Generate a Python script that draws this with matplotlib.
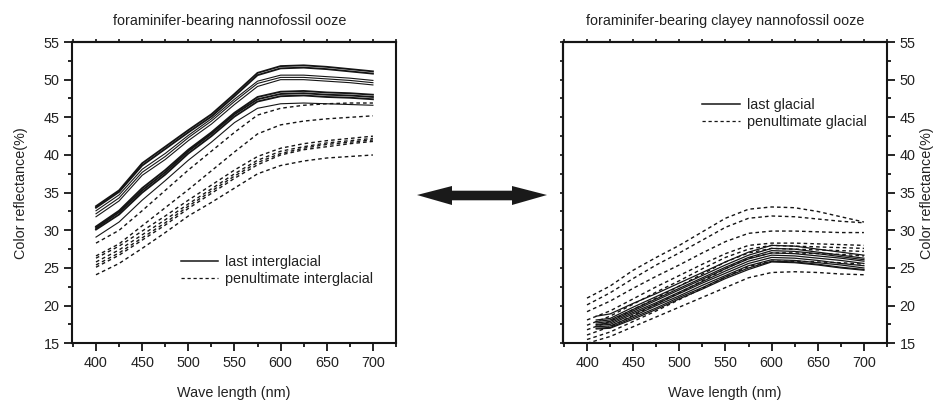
import matplotlib
matplotlib.use('Agg')
import matplotlib.pyplot as plt
from matplotlib.ticker import MultipleLocator
from matplotlib.patches import Polygon
from matplotlib.lines import Line2D
import matplotlib.transforms as mtransforms

plt.rcParams['font.family'] = ['Liberation Sans', 'DejaVu Sans']

# ---------------- data ----------------
wl = [400, 425, 450, 475, 500, 525, 550, 575, 600, 625, 650, 675, 700]
wl_r_solid = [410, 425, 450, 475, 500, 525, 550, 575, 600, 625, 650, 675, 700]

# left panel: last interglacial (solid)
left_solid = [
    [33.2, 35.3, 38.9, 41.1, 43.3, 45.4, 48.1, 50.9, 51.8, 51.9, 51.7, 51.4, 51.1],
    [33.0, 35.1, 38.6, 40.8, 43.0, 45.1, 47.8, 50.6, 51.5, 51.6, 51.4, 51.1, 50.8],
    [32.6, 34.7, 38.1, 40.2, 42.6, 44.8, 47.4, 49.8, 50.6, 50.6, 50.4, 50.2, 49.9],
    [32.2, 34.3, 37.7, 39.8, 42.3, 44.5, 47.1, 49.5, 50.3, 50.3, 50.1, 49.9, 49.6],
    [31.8, 33.9, 37.3, 39.4, 41.9, 44.1, 46.7, 49.1, 50.0, 50.0, 49.8, 49.6, 49.3],
    [30.5, 32.6, 35.6, 38.0, 40.7, 43.0, 45.6, 47.7, 48.4, 48.5, 48.3, 48.2, 48.0],
    [30.3, 32.4, 35.3, 37.7, 40.5, 42.8, 45.4, 47.4, 48.1, 48.2, 48.0, 47.9, 47.7],
    [30.1, 32.1, 35.0, 37.4, 40.2, 42.5, 45.1, 47.1, 47.8, 47.9, 47.7, 47.6, 47.4],
    [29.1, 31.1, 34.0, 36.6, 39.3, 41.7, 44.3, 46.2, 46.8, 46.9, 46.8, 46.7, 46.6],
]
left_solid_thick = [True, True, False, False, False, True, True, True, False]

# left panel: penultimate interglacial (dashed)
left_dashed = [
    [28.3, 30.0, 32.6, 35.3, 38.0, 40.5, 43.0, 45.3, 46.2, 46.6, 46.8, 46.9, 46.9],
    [26.6, 28.2, 30.6, 33.0, 35.4, 37.9, 40.4, 42.8, 44.0, 44.5, 44.8, 45.0, 45.2],
    [26.3, 27.9, 29.9, 31.9, 34.0, 36.0, 38.0, 39.8, 40.9, 41.5, 41.9, 42.2, 42.5],
    [25.8, 27.4, 29.4, 31.4, 33.5, 35.5, 37.5, 39.3, 40.5, 41.1, 41.6, 41.9, 42.2],
    [25.4, 27.0, 29.0, 31.0, 33.2, 35.2, 37.2, 39.0, 40.2, 40.9, 41.4, 41.7, 42.0],
    [25.1, 26.7, 28.7, 30.7, 32.9, 34.9, 36.9, 38.7, 40.0, 40.7, 41.1, 41.5, 41.8],
    [24.1, 25.6, 27.6, 29.7, 31.9, 33.7, 35.6, 37.5, 38.6, 39.2, 39.6, 39.8, 40.0],
]

# right panel: last glacial (solid)
right_solid = [
    [18.6, 18.9, 20.3, 21.6, 23.0, 24.4, 25.8, 27.1, 28.0, 27.9, 27.5, 27.1, 26.7],
    [18.1, 18.3, 19.8, 21.2, 22.6, 24.0, 25.4, 26.7, 27.6, 27.5, 27.1, 26.7, 26.3],
    [17.9, 18.1, 19.5, 20.9, 22.3, 23.7, 25.1, 26.4, 27.3, 27.2, 26.9, 26.5, 26.1],
    [17.7, 17.9, 19.3, 20.7, 22.1, 23.5, 24.9, 26.2, 27.0, 26.9, 26.6, 26.3, 25.9],
    [17.5, 17.7, 19.1, 20.4, 21.8, 23.2, 24.6, 25.9, 26.7, 26.6, 26.3, 26.0, 25.6],
    [17.4, 17.5, 18.9, 20.2, 21.6, 23.0, 24.3, 25.6, 26.4, 26.3, 26.0, 25.6, 25.3],
    [17.2, 17.3, 18.6, 20.0, 21.3, 22.7, 24.0, 25.3, 26.1, 26.0, 25.7, 25.4, 25.0],
    [17.0, 17.1, 18.4, 19.7, 21.1, 22.4, 23.8, 25.0, 25.9, 25.8, 25.5, 25.1, 24.8],
    [16.9, 17.0, 18.2, 19.5, 20.9, 22.2, 23.6, 24.8, 25.8, 25.7, 25.4, 25.0, 24.7],
]

# right panel: penultimate glacial (dashed)
right_dashed = [
    [21.0, 22.6, 24.7, 26.4, 28.0, 29.8, 31.6, 32.8, 33.1, 33.0, 32.5, 31.8, 31.1],
    [20.1, 21.7, 23.6, 25.4, 27.0, 28.7, 30.4, 31.6, 31.9, 31.8, 31.5, 31.2, 31.0],
    [19.2, 20.6, 22.3, 23.9, 25.4, 27.0, 28.5, 29.6, 29.9, 29.9, 29.8, 29.7, 29.7],
    [18.1, 19.3, 20.9, 22.5, 24.0, 25.5, 26.9, 28.0, 28.3, 28.3, 28.2, 28.1, 28.0],
    [17.4, 18.6, 20.2, 21.8, 23.3, 24.9, 26.4, 27.5, 28.0, 27.9, 27.8, 27.7, 27.6],
    [16.8, 17.9, 19.5, 21.0, 22.6, 24.2, 25.8, 27.0, 27.6, 27.5, 27.4, 27.3, 27.2],
    [16.1, 17.2, 18.7, 20.2, 21.7, 23.3, 24.9, 26.3, 27.0, 27.0, 26.9, 26.8, 26.6],
    [15.5, 16.5, 17.9, 19.3, 20.8, 22.3, 23.8, 25.2, 25.9, 25.9, 25.8, 25.7, 25.5],
    [15.0, 15.9, 17.2, 18.5, 19.8, 21.1, 22.4, 23.7, 24.4, 24.5, 24.4, 24.2, 24.1],
]

titles = ["foraminifer-bearing nannofossil ooze",
          "foraminifer-bearing clayey nannofossil ooze"]
legend_left = ["last interglacial", "penultimate interglacial"]
legend_right = ["last glacial", "penultimate glacial"]
xlabel = "Wave length (nm)"
ylabel = "Color reflectance(%)"

# ---------------- figure ----------------
W, H = 938, 407
fig = plt.figure(figsize=(W / 100, H / 100), dpi=100)
FS = 10.4
INK = '#151515'
TXT = '#222222'


def rect(l, t, r, b):
    return [l / W, 1 - b / H, (r - l) / W, (b - t) / H]


axL = fig.add_axes(rect(72, 42, 396, 343.3))
axR = fig.add_axes(rect(563, 42, 887, 343.3))

DASH = (2.6, 2.2)

for y, thick in zip(left_solid, left_solid_thick):
    axL.plot(wl, y, color=INK, lw=1.35 if thick else 0.8)
for y in left_dashed:
    axL.plot(wl, y, color=INK, lw=1.0, dashes=DASH)

for y in right_solid:
    axR.plot(wl_r_solid, y, color=INK, lw=0.9)
for y in right_dashed:
    axR.plot(wl, y, color=INK, lw=1.0, dashes=DASH)

for ax in (axL, axR):
    ax.set_xlim(374, 725)
    ax.set_ylim(15, 55)
    ax.xaxis.set_major_locator(MultipleLocator(50))
    ax.xaxis.set_minor_locator(MultipleLocator(25))
    ax.yaxis.set_major_locator(MultipleLocator(5))
    ax.yaxis.set_minor_locator(MultipleLocator(2.5))
    for s in ax.spines.values():
        s.set_linewidth(1.5)
        s.set_color(INK)
    ax.tick_params(which='major', direction='out', length=6, width=1.3,
                   labelsize=FS, color=INK, labelcolor=TXT)
    ax.tick_params(which='minor', direction='out', length=3.2, width=1.3, color=INK)
    ax.tick_params(axis='x', pad=3)
    ax.tick_params(axis='y', pad=3)
    ax.set_xlabel(xlabel, fontsize=FS, labelpad=12, color=TXT)
    top = ax.secondary_xaxis('top')
    top.xaxis.set_major_locator(MultipleLocator(25))
    top.tick_params(direction='out', length=2.5, width=1.2, labeltop=False, color=INK)
    top.spines['top'].set_linewidth(1.5)

axL.tick_params(axis='y', left=True, right=False, labelleft=True)
axL.set_ylabel(ylabel, fontsize=FS, labelpad=11, color=TXT)

axR.yaxis.tick_right()
axR.yaxis.set_label_position('right')
axR.tick_params(axis='y', which='both', right=True, left=False, labelright=True)
axR.set_ylabel(ylabel, fontsize=FS, labelpad=3, color=TXT)
lft = axR.secondary_yaxis('left')
lft.yaxis.set_major_locator(MultipleLocator(2.5))
lft.tick_params(direction='out', length=2.5, width=1.2, labelleft=False, color=INK)
lft.spines['left'].set_linewidth(1.5)

# titles
fig.text(230 / W, 1 - 25 / H, titles[0], ha='center', va='baseline', fontsize=FS, color=TXT)
fig.text(725 / W, 1 - 25 / H, titles[1], ha='center', va='baseline', fontsize=FS, color=TXT)

# legends
hs = [Line2D([], [], color=INK, lw=1.1), Line2D([], [], color=INK, lw=0.9, dashes=DASH)]
axL.legend(hs, legend_left, loc='upper left', bbox_to_anchor=(0.335, 0.293),
           frameon=False, fontsize=FS, handlelength=2.6, handletextpad=0.5,
           borderpad=0, borderaxespad=0, labelspacing=0.2, labelcolor=TXT)
hs2 = [Line2D([], [], color=INK, lw=1.1), Line2D([], [], color=INK, lw=0.9, dashes=DASH)]
axR.legend(hs2, legend_right, loc='upper left', bbox_to_anchor=(0.43, 0.813),
           frameon=False, fontsize=FS, handlelength=2.6, handletextpad=0.5,
           borderpad=0, borderaxespad=0, labelspacing=0.2, labelcolor=TXT)

# double-headed arrow between panels (pixel layout)
pix = [(417, 195), (452, 186), (452, 190.7), (512, 190.7), (512, 186), (547, 195),
       (512, 205), (512, 200.3), (452, 200.3), (452, 205)]
tr = mtransforms.Affine2D().scale(1 / W, 1 / H) + fig.transFigure
arrow = Polygon([(x, H - y) for x, y in pix], closed=True, facecolor='#1a1a1a',
                edgecolor='none', transform=tr)
fig.patches.append(arrow)

fig.savefig('out.png', dpi=100)
